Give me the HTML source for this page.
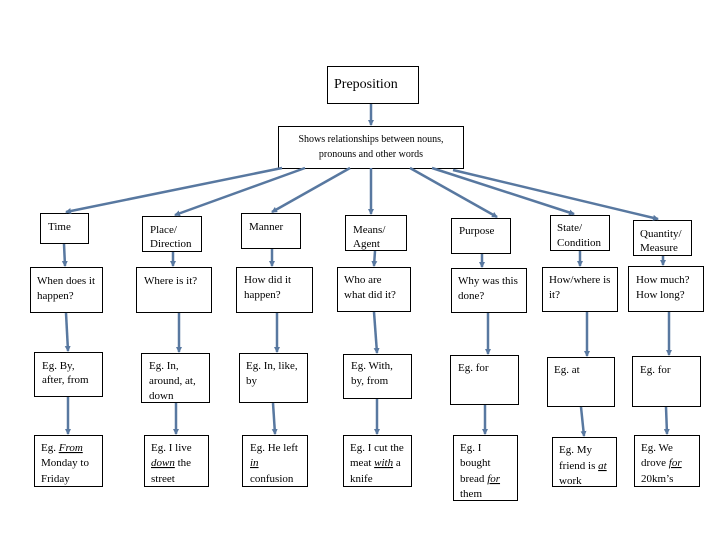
<!DOCTYPE html>
<html><head><style>
body{margin:0;background:#fff;}
svg{display:block}
text{font-family:"Liberation Serif",serif;font-size:11px;fill:#000}
</style></head><body>
<svg width="720" height="540" xmlns="http://www.w3.org/2000/svg">
<defs><marker id="a" markerWidth="6" markerHeight="6" refX="5" refY="3" orient="auto" markerUnits="userSpaceOnUse"><path d="M0,0 L6,3 L0,6 z" fill="#5878a0"/></marker></defs>
<g fill="#fff" stroke="#000" stroke-width="1">
<rect x="327.5" y="66.5" width="91" height="37"/>
<rect x="278.5" y="126.5" width="185" height="42"/>
<rect x="40.5" y="213.5" width="48" height="30"/>
<rect x="30.5" y="267.5" width="72" height="45"/>
<rect x="34.5" y="352.5" width="68" height="44"/>
<rect x="34.5" y="435.5" width="68" height="51"/>
<rect x="142.5" y="216.5" width="59" height="35"/>
<rect x="136.5" y="267.5" width="75" height="45"/>
<rect x="141.5" y="353.5" width="68" height="49"/>
<rect x="144.5" y="435.5" width="64" height="51"/>
<rect x="241.5" y="213.5" width="59" height="35"/>
<rect x="236.5" y="267.5" width="76" height="45"/>
<rect x="239.5" y="353.5" width="68" height="49"/>
<rect x="242.5" y="435.5" width="65" height="51"/>
<rect x="345.5" y="215.5" width="61" height="35"/>
<rect x="337.5" y="267.5" width="73" height="44"/>
<rect x="343.5" y="354.5" width="68" height="44"/>
<rect x="343.5" y="435.5" width="68" height="51"/>
<rect x="451.5" y="218.5" width="59" height="35"/>
<rect x="451.5" y="268.5" width="75" height="44"/>
<rect x="450.5" y="355.5" width="68" height="49"/>
<rect x="453.5" y="435.5" width="64" height="65"/>
<rect x="550.5" y="215.5" width="59" height="35"/>
<rect x="542.5" y="267.5" width="75" height="44"/>
<rect x="547.5" y="357.5" width="67" height="49"/>
<rect x="552.5" y="437.5" width="64" height="49"/>
<rect x="633.5" y="220.5" width="58" height="35"/>
<rect x="628.5" y="266.5" width="75" height="45"/>
<rect x="632.5" y="356.5" width="68" height="50"/>
<rect x="634.5" y="435.5" width="65" height="51"/>
</g>
<g stroke="#5878a0" stroke-width="2.5" marker-end="url(#a)" fill="none">
<line x1="371" y1="104" x2="371" y2="125"/>
<line x1="282" y1="168" x2="66" y2="212"/>
<line x1="305" y1="168" x2="175" y2="215"/>
<line x1="350" y1="168" x2="272" y2="212"/>
<line x1="371" y1="168" x2="371" y2="214"/>
<line x1="410" y1="168" x2="497" y2="217"/>
<line x1="432" y1="168" x2="574" y2="214"/>
<line x1="453" y1="170" x2="658" y2="219"/>
<line x1="64" y1="244" x2="65" y2="266"/><line x1="66" y1="313" x2="68" y2="351"/><line x1="68" y1="397" x2="68" y2="434"/>
<line x1="173" y1="252" x2="173" y2="266"/><line x1="179" y1="313" x2="179" y2="352"/><line x1="176" y1="403" x2="176" y2="434"/>
<line x1="272" y1="249" x2="272" y2="266"/><line x1="277" y1="313" x2="277" y2="352"/><line x1="273" y1="403" x2="275" y2="434"/>
<line x1="375" y1="251" x2="374" y2="266"/><line x1="374" y1="312" x2="377" y2="353"/><line x1="377" y1="399" x2="377" y2="434"/>
<line x1="482" y1="254" x2="482" y2="267"/><line x1="488" y1="313" x2="488" y2="354"/><line x1="485" y1="405" x2="485" y2="434"/>
<line x1="580" y1="251" x2="580" y2="266"/><line x1="587" y1="312" x2="587" y2="356"/><line x1="581" y1="407" x2="584" y2="436"/>
<line x1="663" y1="256" x2="663" y2="265"/><line x1="669" y1="312" x2="669" y2="355"/><line x1="666" y1="407" x2="667" y2="434"/>
</g>
<text x="334" y="88" style="font-size:14px">Preposition</text>
<text x="371" y="142" text-anchor="middle" style="font-size:10px">Shows relationships between nouns,</text>
<text x="371" y="157" text-anchor="middle" style="font-size:10px">pronouns and other words</text>
<text x="48" y="230">Time</text>
<text x="150" y="233">Place/</text><text x="150" y="247">Direction</text>
<text x="249" y="230">Manner</text>
<text x="353" y="233">Means/</text><text x="353" y="247">Agent</text>
<text x="459" y="234">Purpose</text>
<text x="557" y="231">State/</text><text x="557" y="246">Condition</text>
<text x="640" y="237">Quantity/</text><text x="640" y="251">Measure</text>
<text x="37" y="284">When does it</text><text x="37" y="299">happen?</text>
<text x="144" y="284">Where is it?</text>
<text x="244" y="283">How did it</text><text x="244" y="298">happen?</text>
<text x="344" y="283">Who are</text><text x="344" y="298">what did it?</text>
<text x="458" y="284">Why was this</text><text x="458" y="299">done?</text>
<text x="549" y="283">How/where is</text><text x="549" y="298">it?</text>
<text x="636" y="283">How much?</text><text x="636" y="298">How long?</text>
<text x="42" y="369">Eg. By,</text><text x="42" y="383">after, from</text>
<text x="149" y="369">Eg. In,</text><text x="149" y="384">around, at,</text><text x="149" y="399">down</text>
<text x="246" y="369">Eg. In, like,</text><text x="246" y="384">by</text>
<text x="351" y="369">Eg. With,</text><text x="351" y="384">by, from</text>
<text x="458" y="371">Eg. for</text>
<text x="554" y="373">Eg. at</text>
<text x="640" y="373">Eg. for</text>
<text x="41" y="451">Eg. <tspan font-style="italic" text-decoration="underline">From</tspan></text><text x="41" y="466">Monday to</text><text x="41" y="482">Friday</text>
<text x="151" y="451">Eg. I live</text><text x="151" y="466"><tspan font-style="italic" text-decoration="underline">down</tspan>  the</text><text x="151" y="482">street</text>
<text x="250" y="451">Eg. He left</text><text x="250" y="466"><tspan font-style="italic" text-decoration="underline">in</tspan></text><text x="250" y="482">confusion</text>
<text x="350" y="451">Eg. I cut the</text><text x="350" y="466">meat <tspan font-style="italic" text-decoration="underline">with</tspan> a</text><text x="350" y="482">knife</text>
<text x="460" y="451">Eg. I</text><text x="460" y="466">bought</text><text x="460" y="482">bread <tspan font-style="italic" text-decoration="underline">for</tspan></text><text x="460" y="497">them</text>
<text x="559" y="453">Eg. My</text><text x="559" y="469">friend is <tspan font-style="italic" text-decoration="underline">at</tspan></text><text x="559" y="484">work</text>
<text x="641" y="451">Eg. We</text><text x="641" y="466">drove <tspan font-style="italic" text-decoration="underline">for</tspan></text><text x="641" y="482">20km’s</text>
</svg>
</body></html>
